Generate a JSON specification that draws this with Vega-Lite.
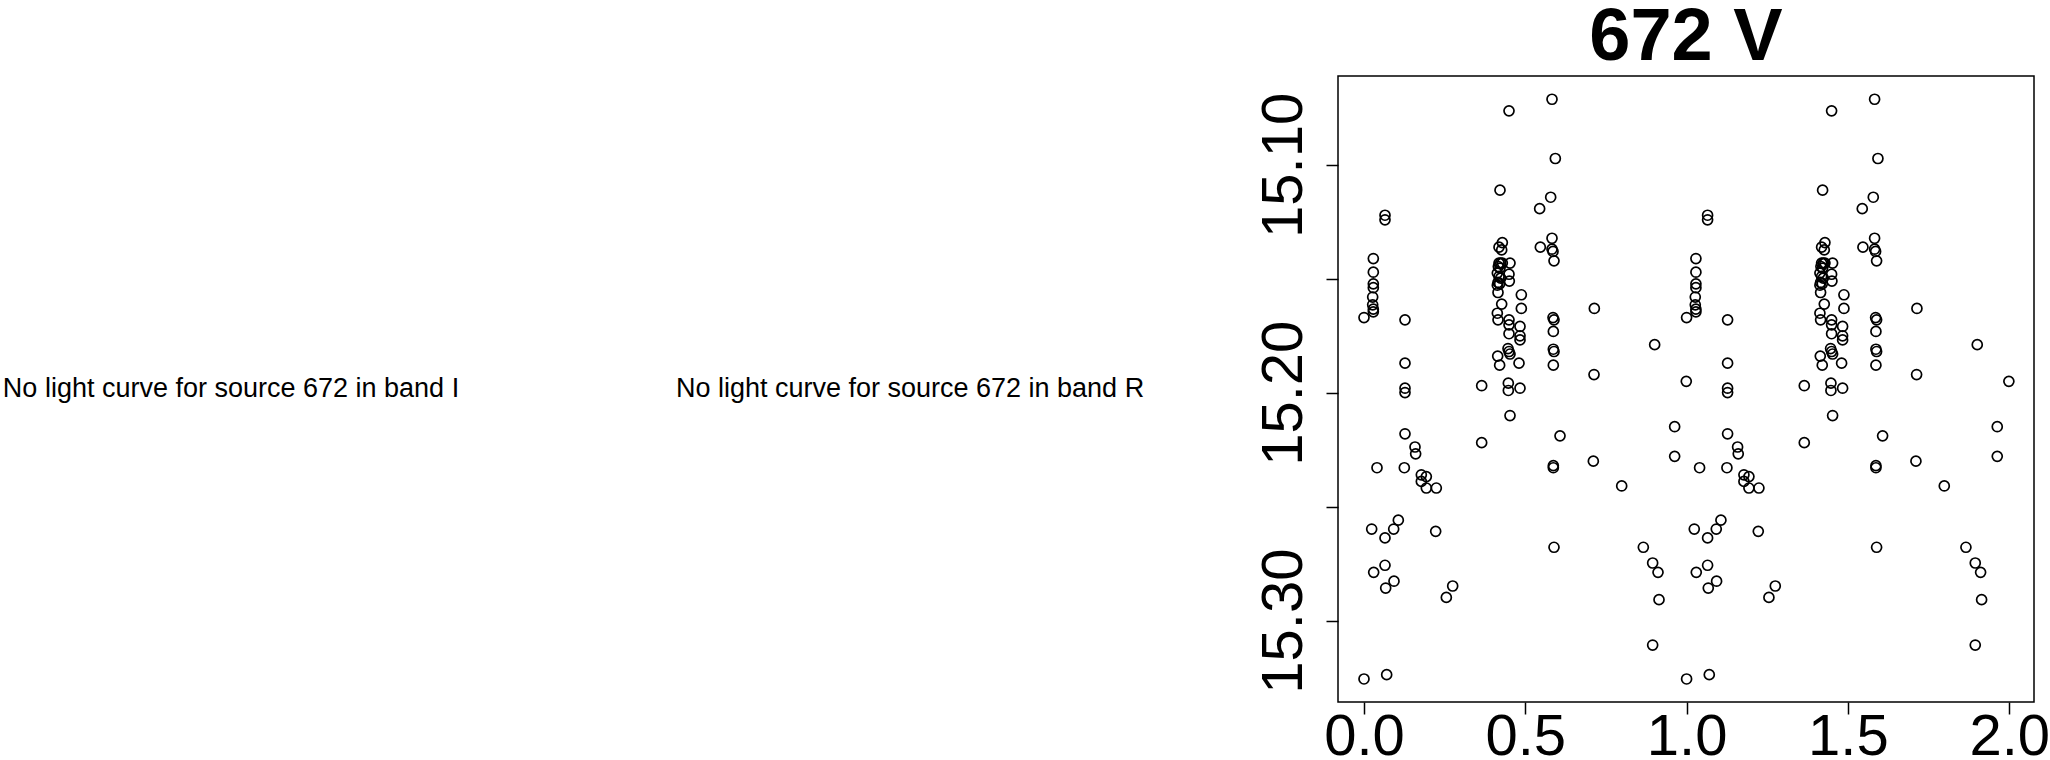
{
  "$schema": "https://vega.github.io/schema/vega-lite/v6.json",
  "background": "white",
  "padding": 0,
  "spacing": 109,
  "config": {"view": {"stroke": null}, "font": "Liberation Sans"},
  "datasets": {
    "labels": [
      {"band": "I", "label": "No light curve for source 672 in band I"},
      {"band": "R", "label": "No light curve for source 672 in band R"}
    ],
    "lc": [
      {"phase": 0.0000, "mag": 15.1670}, {"phase": 0.0000, "mag": 15.3256}, {"phase": 0.0238, "mag": 15.2598},
      {"phase": 0.0289, "mag": 15.1411}, {"phase": 0.0289, "mag": 15.1471}, {"phase": 0.0289, "mag": 15.1522},
      {"phase": 0.0289, "mag": 15.1539}, {"phase": 0.0269, "mag": 15.1580}, {"phase": 0.0269, "mag": 15.1614},
      {"phase": 0.0289, "mag": 15.1633}, {"phase": 0.0289, "mag": 15.1645}, {"phase": 0.0300, "mag": 15.2788},
      {"phase": 0.0403, "mag": 15.2329}, {"phase": 0.0651, "mag": 15.1221}, {"phase": 0.0651, "mag": 15.1241},
      {"phase": 0.0651, "mag": 15.2637}, {"phase": 0.0651, "mag": 15.2757}, {"phase": 0.0672, "mag": 15.2857},
      {"phase": 0.0703, "mag": 15.3237}, {"phase": 0.0920, "mag": 15.2598}, {"phase": 0.0930, "mag": 15.2827},
      {"phase": 0.1064, "mag": 15.2559}, {"phase": 0.1271, "mag": 15.1680}, {"phase": 0.1271, "mag": 15.1870},
      {"phase": 0.1271, "mag": 15.1980}, {"phase": 0.1271, "mag": 15.1999}, {"phase": 0.1271, "mag": 15.2180},
      {"phase": 0.1250, "mag": 15.2329}, {"phase": 0.1581, "mag": 15.2238}, {"phase": 0.1601, "mag": 15.2268},
      {"phase": 0.1777, "mag": 15.2360}, {"phase": 0.1932, "mag": 15.2368}, {"phase": 0.1777, "mag": 15.2389},
      {"phase": 0.1932, "mag": 15.2418}, {"phase": 0.2242, "mag": 15.2418}, {"phase": 0.2222, "mag": 15.2608},
      {"phase": 0.2552, "mag": 15.2898}, {"phase": 0.2749, "mag": 15.2848}, {"phase": 0.3648, "mag": 15.1969},
      {"phase": 0.3648, "mag": 15.2219}, {"phase": 0.4495, "mag": 15.0763}, {"phase": 0.4216, "mag": 15.1111},
      {"phase": 0.4288, "mag": 15.1341}, {"phase": 0.4185, "mag": 15.1361}, {"phase": 0.4268, "mag": 15.1373},
      {"phase": 0.4185, "mag": 15.1431}, {"phase": 0.4237, "mag": 15.1431}, {"phase": 0.4288, "mag": 15.1431},
      {"phase": 0.4526, "mag": 15.1431}, {"phase": 0.4164, "mag": 15.1446}, {"phase": 0.4216, "mag": 15.1453},
      {"phase": 0.4133, "mag": 15.1475}, {"phase": 0.4495, "mag": 15.1480}, {"phase": 0.4185, "mag": 15.1490},
      {"phase": 0.4237, "mag": 15.1497}, {"phase": 0.4505, "mag": 15.1510}, {"phase": 0.4154, "mag": 15.1516},
      {"phase": 0.4205, "mag": 15.1522}, {"phase": 0.4133, "mag": 15.1528}, {"phase": 0.4154, "mag": 15.1560},
      {"phase": 0.4877, "mag": 15.1570}, {"phase": 0.4268, "mag": 15.1611}, {"phase": 0.4877, "mag": 15.1630},
      {"phase": 0.4133, "mag": 15.1651}, {"phase": 0.4154, "mag": 15.1680}, {"phase": 0.4495, "mag": 15.1680},
      {"phase": 0.4495, "mag": 15.1702}, {"phase": 0.4836, "mag": 15.1709}, {"phase": 0.4495, "mag": 15.1741},
      {"phase": 0.4836, "mag": 15.1750}, {"phase": 0.4836, "mag": 15.1768}, {"phase": 0.4464, "mag": 15.1806},
      {"phase": 0.4495, "mag": 15.1819}, {"phase": 0.4526, "mag": 15.1830}, {"phase": 0.4144, "mag": 15.1839},
      {"phase": 0.4805, "mag": 15.1870}, {"phase": 0.4205, "mag": 15.1879}, {"phase": 0.4474, "mag": 15.1958},
      {"phase": 0.4474, "mag": 15.1990}, {"phase": 0.4836, "mag": 15.1980}, {"phase": 0.4526, "mag": 15.2100},
      {"phase": 0.5445, "mag": 15.1192}, {"phase": 0.5466, "mag": 15.1361}, {"phase": 0.5828, "mag": 15.0712},
      {"phase": 0.5931, "mag": 15.0972}, {"phase": 0.5787, "mag": 15.1142}, {"phase": 0.5828, "mag": 15.1322},
      {"phase": 0.5828, "mag": 15.1370}, {"phase": 0.5859, "mag": 15.1380}, {"phase": 0.5890, "mag": 15.1421},
      {"phase": 0.5859, "mag": 15.1670}, {"phase": 0.5890, "mag": 15.1680}, {"phase": 0.5869, "mag": 15.1731},
      {"phase": 0.5869, "mag": 15.1809}, {"phase": 0.5890, "mag": 15.1819}, {"phase": 0.5869, "mag": 15.1879},
      {"phase": 0.5869, "mag": 15.2320}, {"phase": 0.5869, "mag": 15.2329}, {"phase": 0.5890, "mag": 15.2678},
      {"phase": 0.6076, "mag": 15.2189}, {"phase": 0.7140, "mag": 15.1630}, {"phase": 0.7130, "mag": 15.1920},
      {"phase": 0.7109, "mag": 15.2300}, {"phase": 0.7988, "mag": 15.2409}, {"phase": 0.8659, "mag": 15.2678},
      {"phase": 0.8948, "mag": 15.2747}, {"phase": 0.9114, "mag": 15.2788}, {"phase": 0.9145, "mag": 15.2908},
      {"phase": 0.8948, "mag": 15.3107}, {"phase": 0.9010, "mag": 15.1789}, {"phase": 0.9630, "mag": 15.2149},
      {"phase": 0.9630, "mag": 15.2279}, {"phase": 0.9990, "mag": 15.1950},

      {"phase": 1.0000, "mag": 15.1670}, {"phase": 1.0000, "mag": 15.3256}, {"phase": 1.0238, "mag": 15.2598},
      {"phase": 1.0289, "mag": 15.1411}, {"phase": 1.0289, "mag": 15.1471}, {"phase": 1.0289, "mag": 15.1522},
      {"phase": 1.0289, "mag": 15.1539}, {"phase": 1.0269, "mag": 15.1580}, {"phase": 1.0269, "mag": 15.1614},
      {"phase": 1.0289, "mag": 15.1633}, {"phase": 1.0289, "mag": 15.1645}, {"phase": 1.0300, "mag": 15.2788},
      {"phase": 1.0403, "mag": 15.2329}, {"phase": 1.0651, "mag": 15.1221}, {"phase": 1.0651, "mag": 15.1241},
      {"phase": 1.0651, "mag": 15.2637}, {"phase": 1.0651, "mag": 15.2757}, {"phase": 1.0672, "mag": 15.2857},
      {"phase": 1.0703, "mag": 15.3237}, {"phase": 1.0920, "mag": 15.2598}, {"phase": 1.0930, "mag": 15.2827},
      {"phase": 1.1064, "mag": 15.2559}, {"phase": 1.1271, "mag": 15.1680}, {"phase": 1.1271, "mag": 15.1870},
      {"phase": 1.1271, "mag": 15.1980}, {"phase": 1.1271, "mag": 15.1999}, {"phase": 1.1271, "mag": 15.2180},
      {"phase": 1.1250, "mag": 15.2329}, {"phase": 1.1581, "mag": 15.2238}, {"phase": 1.1601, "mag": 15.2268},
      {"phase": 1.1777, "mag": 15.2360}, {"phase": 1.1932, "mag": 15.2368}, {"phase": 1.1777, "mag": 15.2389},
      {"phase": 1.1932, "mag": 15.2418}, {"phase": 1.2242, "mag": 15.2418}, {"phase": 1.2222, "mag": 15.2608},
      {"phase": 1.2552, "mag": 15.2898}, {"phase": 1.2749, "mag": 15.2848}, {"phase": 1.3648, "mag": 15.1969},
      {"phase": 1.3648, "mag": 15.2219}, {"phase": 1.4495, "mag": 15.0763}, {"phase": 1.4216, "mag": 15.1111},
      {"phase": 1.4288, "mag": 15.1341}, {"phase": 1.4185, "mag": 15.1361}, {"phase": 1.4268, "mag": 15.1373},
      {"phase": 1.4185, "mag": 15.1431}, {"phase": 1.4237, "mag": 15.1431}, {"phase": 1.4288, "mag": 15.1431},
      {"phase": 1.4526, "mag": 15.1431}, {"phase": 1.4164, "mag": 15.1446}, {"phase": 1.4216, "mag": 15.1453},
      {"phase": 1.4133, "mag": 15.1475}, {"phase": 1.4495, "mag": 15.1480}, {"phase": 1.4185, "mag": 15.1490},
      {"phase": 1.4237, "mag": 15.1497}, {"phase": 1.4505, "mag": 15.1510}, {"phase": 1.4154, "mag": 15.1516},
      {"phase": 1.4205, "mag": 15.1522}, {"phase": 1.4133, "mag": 15.1528}, {"phase": 1.4154, "mag": 15.1560},
      {"phase": 1.4877, "mag": 15.1570}, {"phase": 1.4268, "mag": 15.1611}, {"phase": 1.4877, "mag": 15.1630},
      {"phase": 1.4133, "mag": 15.1651}, {"phase": 1.4154, "mag": 15.1680}, {"phase": 1.4495, "mag": 15.1680},
      {"phase": 1.4495, "mag": 15.1702}, {"phase": 1.4836, "mag": 15.1709}, {"phase": 1.4495, "mag": 15.1741},
      {"phase": 1.4836, "mag": 15.1750}, {"phase": 1.4836, "mag": 15.1768}, {"phase": 1.4464, "mag": 15.1806},
      {"phase": 1.4495, "mag": 15.1819}, {"phase": 1.4526, "mag": 15.1830}, {"phase": 1.4144, "mag": 15.1839},
      {"phase": 1.4805, "mag": 15.1870}, {"phase": 1.4205, "mag": 15.1879}, {"phase": 1.4474, "mag": 15.1958},
      {"phase": 1.4474, "mag": 15.1990}, {"phase": 1.4836, "mag": 15.1980}, {"phase": 1.4526, "mag": 15.2100},
      {"phase": 1.5445, "mag": 15.1192}, {"phase": 1.5466, "mag": 15.1361}, {"phase": 1.5828, "mag": 15.0712},
      {"phase": 1.5931, "mag": 15.0972}, {"phase": 1.5787, "mag": 15.1142}, {"phase": 1.5828, "mag": 15.1322},
      {"phase": 1.5828, "mag": 15.1370}, {"phase": 1.5859, "mag": 15.1380}, {"phase": 1.5890, "mag": 15.1421},
      {"phase": 1.5859, "mag": 15.1670}, {"phase": 1.5890, "mag": 15.1680}, {"phase": 1.5869, "mag": 15.1731},
      {"phase": 1.5869, "mag": 15.1809}, {"phase": 1.5890, "mag": 15.1819}, {"phase": 1.5869, "mag": 15.1879},
      {"phase": 1.5869, "mag": 15.2320}, {"phase": 1.5869, "mag": 15.2329}, {"phase": 1.5890, "mag": 15.2678},
      {"phase": 1.6076, "mag": 15.2189}, {"phase": 1.7140, "mag": 15.1630}, {"phase": 1.7130, "mag": 15.1920},
      {"phase": 1.7109, "mag": 15.2300}, {"phase": 1.7988, "mag": 15.2409}, {"phase": 1.8659, "mag": 15.2678},
      {"phase": 1.8948, "mag": 15.2747}, {"phase": 1.9114, "mag": 15.2788}, {"phase": 1.9145, "mag": 15.2908},
      {"phase": 1.8948, "mag": 15.3107}, {"phase": 1.9010, "mag": 15.1789}, {"phase": 1.9630, "mag": 15.2149},
      {"phase": 1.9630, "mag": 15.2279}, {"phase": 1.9990, "mag": 15.1950}
    ]
  },
  "hconcat": [
    {
      "data": {"name": "labels"},
      "width": 1141,
      "height": 642,
      "mark": {"type": "text", "font": "Liberation Sans", "fontSize": 27, "color": "black", "align": "center", "baseline": "alphabetic"},
      "encoding": {
        "x": {"field": "band", "type": "nominal", "axis": null, "scale": {"type": "point", "padding": 0.3402}},
        "text": {"field": "label", "type": "nominal"}
      }
    },
    {
      "data": {"name": "lc"},
      "width": 696,
      "height": 626,
      "view": {"stroke": "black", "strokeWidth": 1.5},
      "title": {"text": "672 V", "font": "Liberation Sans", "fontSize": 74, "fontWeight": "bold", "color": "black", "anchor": "middle", "baseline": "alphabetic", "offset": -58},
      "mark": {"type": "point", "shape": "circle", "filled": false, "color": "black", "size": 100, "strokeWidth": 1.7, "opacity": 1},
      "encoding": {
        "x": {
          "field": "phase", "type": "quantitative",
          "scale": {"domain": [-0.0806, 2.0769], "nice": false, "zero": false},
          "axis": {"title": null, "values": [0, 0.5, 1, 1.5, 2], "format": ".1f", "grid": false, "domain": false,
                   "tickSize": 12, "tickColor": "black", "tickWidth": 1.5, "labelFontSize": 58, "labelFont": "Liberation Sans",
                   "labelColor": "black", "labelPadding": -6, "labelFlush": false, "labelOverlap": false, "labelBaseline": "top"}
        },
        "y": {
          "field": "mag", "type": "quantitative",
          "scale": {"domain": [15.061, 15.3357], "nice": false, "zero": false, "reverse": true},
          "axis": {"title": null, "values": [15.10, 15.15, 15.20, 15.25, 15.30],
                   "labelExpr": "round(datum.value * 100) % 10 == 0 ? format(datum.value, '.2f') : ''",
                   "grid": false, "domain": false, "tickSize": 12, "tickColor": "black", "tickWidth": 1.5,
                   "labelFontSize": 58, "labelFont": "Liberation Sans", "labelColor": "black", "labelAngle": 270,
                   "labelAlign": "center", "labelBaseline": "alphabetic", "labelPadding": 25, "labelFlush": false, "labelOverlap": false}
        }
      }
    }
  ]
}
